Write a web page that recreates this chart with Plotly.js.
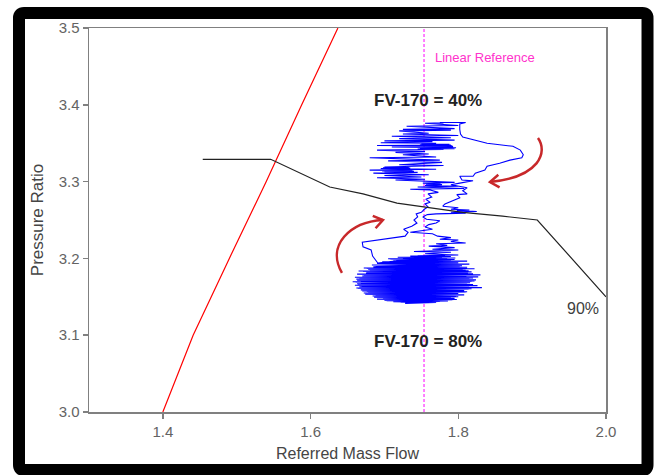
<!DOCTYPE html>
<html>
<head>
<meta charset="utf-8">
<script src="https://cdn.plot.ly/plotly-3.0.1.min.js"></script>
<style>html,body{margin:0;padding:0;background:#fff;}#chart{width:655px;height:475px;}</style>
</head>
<body>
<div id="chart"></div>
<script>
// ---- data ----
const xTickVals = [1.4, 1.6, 1.8, 2.0];
const xTickText = ['1.4', '1.6', '1.8', '2.0'];
const yTickVals = [3.0, 3.1, 3.2, 3.3, 3.4, 3.5];
const yTickText = ['3.0', '3.1', '3.2', '3.3', '3.4', '3.5'];

// surge line (red)
const surgeX = [1.400, 1.441, 1.490, 1.540, 1.588, 1.637];
const surgeY = [3.000, 3.100, 3.200, 3.300, 3.400, 3.500];

// 90% speed line (black)
const speedX = [1.454, 1.546, 1.626, 1.671, 1.717, 1.752, 1.806, 1.860, 1.907, 2.000];
const speedY = [3.329, 3.329, 3.293, 3.284, 3.272, 3.267, 3.260, 3.255, 3.250, 3.150];

// linear reference (magenta dotted)
const refX = [1.7536, 1.7536];
const refY = [3.0, 3.5];

// operating trace (blue)
const flowX = [
 1.722,1.775,1.703,1.792,1.690,1.795,1.695,1.800,1.684,1.806,1.680,1.797,1.672,1.810,1.676,1.808,
 1.668,1.814,1.664,1.832,1.666,1.812,1.660,1.820,1.663,1.815,1.661,1.818,1.668,1.824,1.662,1.815,
 1.666,1.827,1.670,1.812,1.668,1.820,1.675,1.810,1.671,1.814,1.680,1.806,1.676,1.812,1.685,1.802,
 1.690,1.808,1.695,1.798,1.700,1.803,1.712,1.790,1.708,1.785,1.725,1.778,1.735,1.782,
 1.691,1.684,1.682,1.671,1.670,1.694,1.718,1.728,1.732,1.726,1.737,1.744,1.740,1.745,1.743,1.750,1.754,1.759,
 1.755,1.762,1.756,1.764,1.759,1.773,1.762,
 1.735,1.808,1.745,1.800,1.755,1.778,1.756,1.776,1.752,1.795,1.715,1.755,1.690,1.750,1.700,1.760,
 1.685,1.745,1.700,1.740,1.697,1.738,1.680,1.770,1.695,1.735,1.698,1.733,1.700,1.780,1.720,1.778,
 1.705,1.775,1.680,1.770,1.725,1.760,1.715,1.755,1.690,1.780,1.745,1.795,1.748,1.797,1.710,1.793,
 1.746,1.792,1.690,1.790,1.748,1.788,1.750,1.770,1.695,1.765,1.700,1.795,1.720,1.790,1.710,1.800,
 1.725,1.760,1.720,1.790,1.725,1.795,1.730,1.800,1.755,1.780,1.775,1.810,1.802,
 1.802,1.803,1.806,1.822,1.839,1.856,1.874,1.884,1.888,1.886,1.870,1.856,1.839,1.836,1.823,1.820,
 1.802,1.805,1.820,1.802,1.790,1.812,1.806,1.812,1.798,1.802,1.793,1.782,1.779,
 1.800,1.790,1.815,1.798,1.825,1.790,1.810,1.770,
 1.758,1.752,1.757,1.775,1.770,1.760,1.755,1.765,1.752,
 1.735,1.765,1.772,1.790,1.775,1.800,1.790,1.810,1.770,1.785,1.760,1.795,1.765,1.800,1.740,1.790,1.755,1.778,
 1.800,1.745,1.790,1.718,1.796,1.705,1.795,1.716,1.812,1.697,1.800,1.690,1.815,1.683,1.805,1.688,
 1.812,1.672,1.822,1.678,1.810,1.665,1.818,1.676,1.813,1.663,1.830,1.672,1.811,1.660,1.820,1.667,
 1.812,1.663,1.822,1.657,1.816,1.668,1.812,1.664,1.826,1.669,1.815,1.662,1.818,1.672,1.805,1.670,
 1.812,1.678,1.800,1.674,1.808,1.688,1.797,1.686,1.790,1.698,1.798,1.700,1.786,1.712,1.770,1.728
];
const flowY = [
 3.143,3.144,3.145,3.146,3.147,3.148,3.149,3.150,3.151,3.152,3.153,3.154,3.155,3.156,3.157,3.158,
 3.159,3.160,3.161,3.162,3.163,3.164,3.165,3.166,3.167,3.168,3.169,3.170,3.171,3.172,3.173,3.174,
 3.175,3.176,3.177,3.178,3.179,3.180,3.181,3.182,3.183,3.184,3.185,3.186,3.187,3.188,3.189,3.190,
 3.191,3.192,3.193,3.194,3.195,3.196,3.197,3.198,3.199,3.200,3.201,3.202,3.203,3.204,
 3.194,3.203,3.211,3.215,3.221,3.224,3.227,3.229,3.234,3.238,3.242,3.246,3.250,3.254,3.258,3.260,3.264,3.267,
 3.271,3.273,3.277,3.280,3.284,3.286,3.289,
 3.290,3.291,3.293,3.294,3.295,3.296,3.2965,3.297,3.298,3.299,3.302,3.303,3.305,3.306,3.308,3.309,
 3.311,3.312,3.313,3.3135,3.314,3.3145,3.315,3.316,3.317,3.3175,3.318,3.3185,3.319,3.321,3.322,3.325,
 3.327,3.328,3.331,3.332,3.335,3.336,3.338,3.339,3.341,3.342,3.3425,3.343,3.3435,3.344,3.345,3.3455,
 3.346,3.3465,3.347,3.3475,3.348,3.3485,3.349,3.350,3.3505,3.352,3.353,3.354,3.356,3.357,3.359,3.360,
 3.362,3.363,3.366,3.367,3.368,3.369,3.372,3.373,3.376,3.3765,3.377,3.377,3.375,
 3.368,3.362,3.358,3.354,3.350,3.348,3.346,3.341,3.335,3.331,3.328,3.324,3.320,3.315,3.311,3.307,
 3.307,3.302,3.301,3.298,3.296,3.292,3.288,3.284,3.283,3.279,3.275,3.271,3.268,
 3.266,3.264,3.263,3.2625,3.261,3.260,3.259,3.258,
 3.257,3.254,3.251,3.249,3.246,3.244,3.241,3.238,3.236,
 3.234,3.232,3.229,3.227,3.225,3.224,3.222,3.220,3.219,3.217,3.216,3.214,3.212,3.211,3.209,3.208,3.206,3.205,
 3.2045,3.2035,3.2025,3.2015,3.2005,3.1995,3.1985,3.1975,3.1965,3.1955,3.1945,3.1935,3.1925,3.1915,3.1905,3.1895,
 3.1885,3.1875,3.1865,3.1855,3.1845,3.1835,3.1825,3.1815,3.1805,3.1795,3.1785,3.1775,3.1765,3.1755,3.1745,3.1735,
 3.1725,3.1715,3.1705,3.1695,3.1685,3.1675,3.1665,3.1655,3.1645,3.1635,3.1625,3.1615,3.1605,3.1595,3.1585,3.1575,
 3.1565,3.1555,3.1545,3.1535,3.1525,3.1515,3.1505,3.1495,3.1485,3.1475,3.1465,3.1455,3.1445,3.1435,3.1425,3.1415
];

// ---- chart ----
const FONT = 'Liberation Sans, Arial, sans-serif';
const traces = [
  {x: refX, y: refY, mode: 'lines', line: {color: '#ff00ff', width: 1, dash: '3px,2px'}, hoverinfo: 'skip'},
  {x: surgeX, y: surgeY, mode: 'lines', line: {color: '#ff0000', width: 1.2}, hoverinfo: 'skip'},
  {x: flowX, y: flowY, mode: 'lines', line: {color: '#0000ff', width: 1.1}, hoverinfo: 'skip'},
  {x: speedX, y: speedY, mode: 'lines', line: {color: '#222222', width: 1.2}, hoverinfo: 'skip'}
];

// frame geometry in paper coords
const fL = -0.1354, fR = 1.0803, fT = 1.0391, fB = -0.1510, rx = 0.0097, ry = 0.0130;
const framePath = `M ${fL+rx},${fT} L ${fR-rx},${fT} Q ${fR},${fT} ${fR},${fT-ry} L ${fR},${fB+ry} Q ${fR},${fB} ${fR-rx},${fB} L ${fL+rx},${fB} Q ${fL},${fB} ${fL},${fB+ry} L ${fL},${fT-ry} Q ${fL},${fT} ${fL+rx},${fT} Z`;

const arrowColor = '#c8282a';
const shapes = [
  {type: 'path', xref: 'paper', yref: 'paper', path: framePath, line: {color: '#000', width: 12}, fillcolor: 'rgba(0,0,0,0)'},
  {type: 'path', xref: 'x', yref: 'y', path: 'M 1.9079,3.3568 C 1.9214,3.3385 1.9106,3.3060 1.8429,3.2995', line: {color: arrowColor, width: 2.5}},
  {type: 'path', xref: 'x', yref: 'y', path: 'M 1.8542,3.3089 L 1.8429,3.2995 L 1.8559,3.2924', line: {color: arrowColor, width: 2.5}},
  {type: 'path', xref: 'x', yref: 'y', path: 'M 1.6425,3.1810 C 1.6209,3.2174 1.6534,3.2474 1.6980,3.2500', line: {color: arrowColor, width: 2.5}},
  {type: 'path', xref: 'x', yref: 'y', path: 'M 1.6880,3.2393 L 1.6980,3.2500 L 1.6842,3.2553', line: {color: arrowColor, width: 2.5}}
];

const annotations = [
  {x: 1.7658, y: 3.4622, xref: 'x', yref: 'y', text: 'Linear Reference', showarrow: false, xanchor: 'left', yanchor: 'middle', font: {family: FONT, size: 13, color: '#ff33cc'}},
  {x: 1.759, y: 3.405, xref: 'x', yref: 'y', text: '<b>FV-170 = 40%</b>', showarrow: false, xanchor: 'center', yanchor: 'middle', font: {family: FONT, size: 17, color: '#222222'}},
  {x: 1.759, y: 3.0924, xref: 'x', yref: 'y', text: '<b>FV-170 = 80%</b>', showarrow: false, xanchor: 'center', yanchor: 'middle', font: {family: FONT, size: 17, color: '#222222'}},
  {x: 1.969, y: 3.1354, xref: 'x', yref: 'y', text: '90%', showarrow: false, xanchor: 'center', yanchor: 'middle', font: {family: FONT, size: 16, color: '#404040'}}
];

const axisCommon = {
  showline: true, linecolor: '#808080', linewidth: 1.5, mirror: true,
  ticks: 'outside', ticklen: 5, tickwidth: 1.5, tickcolor: '#808080',
  showgrid: false, zeroline: false,
  tickfont: {family: FONT, size: 15, color: '#636363'}
};

const layout = {
  width: 655, height: 475,
  margin: {l: 89, r: 49, t: 28, b: 63, pad: 0},
  paper_bgcolor: '#ffffff', plot_bgcolor: '#ffffff',
  showlegend: false,
  font: {family: FONT},
  xaxis: Object.assign({}, axisCommon, {
    range: [1.3, 2.0], tickmode: 'array', tickvals: xTickVals, ticktext: xTickText,
    title: {text: 'Referred Mass Flow', font: {family: FONT, size: 16, color: '#454545'}, standoff: 9}
  }),
  yaxis: Object.assign({}, axisCommon, {
    range: [3.0, 3.5], tickmode: 'array', tickvals: yTickVals, ticktext: yTickText,
    title: {text: 'Pressure Ratio', font: {family: FONT, size: 17, color: '#454545'}, standoff: 10}
  }),
  shapes: shapes,
  annotations: annotations
};

Plotly.newPlot('chart', traces, layout, {displayModeBar: false, staticPlot: true});
</script>
</body>
</html>
